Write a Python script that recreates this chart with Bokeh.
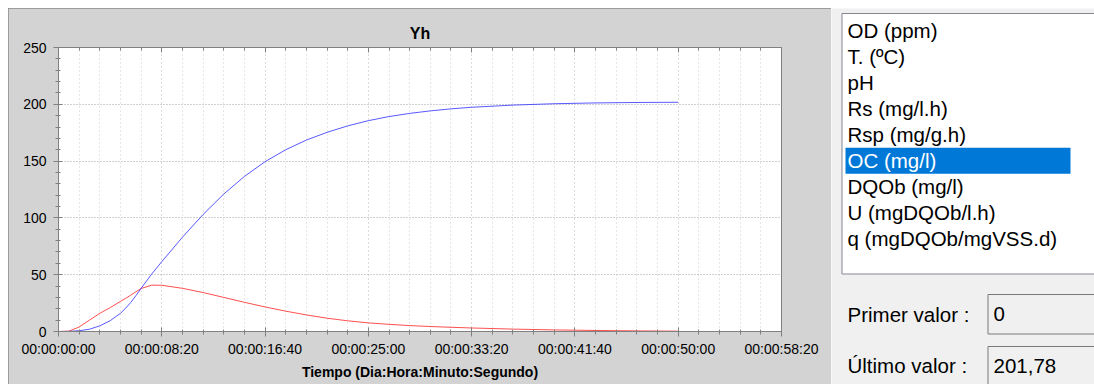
from bokeh.plotting import figure
from bokeh.models import (Range1d, FixedTicker, LinearAxis, Grid, Title,
                          InlineStyleSheet, Spacer)
from bokeh.layouts import row, column
from bokeh.embed import file_html
from bokeh.resources import INLINE
from bokeh.core.properties import value

# ---------------- data ----------------
time_s = [0, 50, 100, 150, 200, 250, 300, 325, 350, 375, 400, 450, 500, 600,
          700, 800, 900, 1000, 1100, 1200, 1300, 1400, 1500, 1600, 1700, 1800,
          1900, 2000, 2200, 2400, 2600, 2800, 3000]
oc_mg_l = [0, 0.1, 0.7, 2.0, 5.0, 9.5, 16.0, 20.5, 25.6, 31.6, 38.0, 50.3,
           61.5, 83, 103, 121, 136.5, 149.5, 160, 168.5, 175.3, 181, 185.6,
           189.2, 192, 194.2, 196, 197.4, 199.3, 200.5, 201.2, 201.6, 201.78]
red_series = [0, 0.3, 4, 10, 16, 21, 26.5, 29.2, 32, 35, 37.8, 40.8, 40.7,
              38, 34.3, 30, 25.7, 21.6, 17.9, 14.6, 11.7, 9.4, 7.6, 6.3, 5.2,
              4.4, 3.7, 3.1, 2.1, 1.4, 0.9, 0.55, 0.3]

x_ticks = [0, 500, 1000, 1500, 2000, 2500, 3000, 3500]
x_tick_labels = ["00:00:00:00", "00:00:08:20", "00:00:16:40", "00:00:25:00",
                 "00:00:33:20", "00:00:41:40", "00:00:50:00", "00:00:58:20"]
y_ticks = [0, 50, 100, 150, 200, 250]

list_items = ["OD (ppm)", "T. (ºC)", "pH", "Rs (mg/l.h)", "Rsp (mg/g.h)",
              "OC (mg/l)", "DQOb (mg/l)", "U (mgDQOb/l.h)",
              "q (mgDQOb/mgVSS.d)"]
selected_item = "OC (mg/l)"
field_labels = ["Primer valor :", "Último valor :"]
field_values = ["0", "201,78"]

# ---------------- styles ----------------
FONT = "Liberation Sans"
PANEL = "#d3d3d3"
AXIS = "#808080"

# ---------------- chart ----------------
p = figure(width=823, height=376, x_range=Range1d(0, 3500),
           y_range=Range1d(0, 250), output_backend="svg",
           toolbar_location=None, x_axis_type=None, y_axis_type=None,
           min_border_left=50, min_border_right=50, min_border_top=39,
           min_border_bottom=53, border_fill_color=PANEL,
           background_fill_color="white", outline_line_color=AXIS)
p.stylesheets = [InlineStyleSheet(
    css=":host { outline: 1px solid #8a8a8a; outline-offset: -1px; }")]

xticker = FixedTicker(ticks=x_ticks, minor_ticks=list(range(0, 3501, 100)))
yticker = FixedTicker(ticks=y_ticks, minor_ticks=list(range(0, 251, 10)))

p.add_layout(Grid(dimension=0, ticker=xticker, grid_line_color="#cfcfcf",
                  grid_line_dash="1 3", minor_grid_line_color="#cfcfcf",
                  minor_grid_line_dash="1 3"))
p.add_layout(Grid(dimension=1, ticker=yticker, grid_line_color="#a0a0a0",
                  grid_line_dash="1 2"))

common = dict(axis_line_color=AXIS, major_tick_line_color=AXIS,
              minor_tick_line_color=AXIS,
              major_label_text_font=FONT,
              major_label_text_font_size="14px",
              major_label_text_color="black")

xaxis = LinearAxis(ticker=xticker,
                   major_label_overrides=dict(zip(x_ticks, x_tick_labels)),
                   axis_label="Tiempo (Dia:Hora:Minuto:Segundo)",
                   axis_label_text_font=FONT,
                   axis_label_text_font_style="bold",
                   axis_label_text_font_size="14px",
                   axis_label_text_color="black",
                   axis_label_standoff=4,
                   major_tick_in=4, major_tick_out=5,
                   minor_tick_in=2, minor_tick_out=3,
                   major_label_standoff=4, **common)
p.add_layout(xaxis, "below")

yaxis = LinearAxis(ticker=yticker, major_tick_in=4, major_tick_out=5,
                   minor_tick_in=2, minor_tick_out=3,
                   major_label_standoff=7, **common)
p.add_layout(yaxis, "left")

top_axis = LinearAxis(ticker=xticker, major_tick_in=5, major_tick_out=0,
                      minor_tick_in=3, minor_tick_out=0,
                      major_label_text_font_size="0px",
                      major_label_standoff=0, axis_line_color=AXIS,
                      major_tick_line_color=AXIS, minor_tick_line_color=AXIS)
p.add_layout(top_axis, "above")

p.add_layout(Title(text="Yh", align="center", text_font=FONT,
                   text_font_style="bold", text_font_size="16px",
                   text_color="black", standoff=11), "above")

p.line(time_s, red_series, line_color="#ff3030", line_width=1,
       line_alpha=0.85)
p.line(time_s, oc_mg_l, line_color="#3030ff", line_width=1,
       line_alpha=0.8)

# ---------------- side panel ----------------
q = figure(width=263, height=376, x_range=Range1d(831, 1094),
           y_range=Range1d(384, 8), output_backend="svg",
           toolbar_location=None, x_axis_type=None, y_axis_type=None,
           min_border=0, background_fill_color="#f0f0f0",
           border_fill_color="#f0f0f0", outline_line_color=None)

q.quad(left=[841.5], right=[1110], top=[13], bottom=[273.5],
       fill_color="white", line_color="#828790", line_width=1)

row_h = 26
item_y = [17.3 + row_h * i + row_h / 2 for i in range(len(list_items))]
sel = list_items.index(selected_item)
q.quad(left=[845], right=[1070], top=[item_y[sel] - row_h / 2],
       bottom=[item_y[sel] + row_h / 2], fill_color="#0078d7",
       line_color=None)
item_colors = ["white" if s == selected_item else "black" for s in list_items]
q.text(x=[847] * len(list_items), y=item_y, text=list_items,
       text_color=item_colors, text_font=value(FONT),
       text_font_size="20.5px", text_baseline="middle")

field_y = [313.5, 365]
q.quad(left=[987.5, 987.5], right=[1110, 1110], top=[294, 346],
       bottom=[333.5, 400], fill_color="#f0f0f0", line_color="#7a7a7a")
q.text(x=[847, 847], y=field_y, text=field_labels, text_color="black",
       text_font=value(FONT), text_font_size="20.5px",
       text_baseline="middle")
q.text(x=[993, 993], y=field_y, text=field_values, text_color="black",
       text_font=value(FONT), text_font_size="20.5px",
       text_baseline="middle")

layout = row(Spacer(width=8, height=384),
             column(Spacer(width=823, height=8), p),
             column(Spacer(width=263, height=8), q))
open("out.html", "w").write(file_html(layout, INLINE))
